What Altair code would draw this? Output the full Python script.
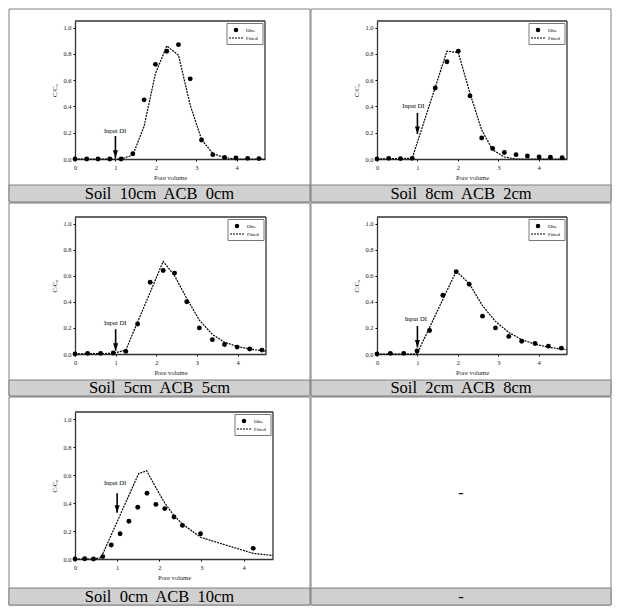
import altair as alt
import pandas as pd

FONT = "Liberation Serif"
BORDER = "#808080"
CAPFILL = "#d0d0d0"
FRAME = "#333"

# ---------------- data ----------------
captions = ["Soil  10cm  ACB  0cm", "Soil  8cm  ACB  2cm", "Soil  5cm  ACB  5cm",
            "Soil  2cm  ACB  8cm", "Soil  0cm  ACB  10cm", "-"]
legend_labels = ["Obs.", "Fitted"]

obs_x1 = [0, 0.29, 0.57, 0.86, 1.14, 1.43, 1.71, 1.99, 2.27, 2.56, 2.85, 3.13, 3.41, 3.70, 3.98, 4.27, 4.55]
obs_y1 = [0, 0, 0, 0, 0, 0.04, 0.45, 0.72, 0.82, 0.87, 0.61, 0.145, 0.033, 0.012, 0.008, 0.005, 0.003]
fit_x1 = [0, 1.14, 1.43, 1.71, 1.99, 2.27, 2.56, 2.85, 3.13, 3.41, 3.70, 3.98, 4.7]
fit_y1 = [0, 0.0, 0.03, 0.25, 0.65, 0.86, 0.79, 0.41, 0.15, 0.04, 0.01, 0.0, 0.0]

obs_x2 = [0, 0.29, 0.58, 0.87, 1.44, 1.73, 2.01, 2.30, 2.59, 2.86, 3.15, 3.44, 3.72, 4.01, 4.29, 4.58]
obs_y2 = [0, 0.005, 0.003, 0.005, 0.54, 0.74, 0.82, 0.48, 0.16, 0.08, 0.05, 0.033, 0.023, 0.015, 0.013, 0.01]
fit_x2 = [0, 0.87, 1.73, 2.01, 2.30, 2.59, 2.86, 3.15, 3.44, 4.7]
fit_y2 = [0, 0.005, 0.82, 0.81, 0.50, 0.22, 0.07, 0.015, 0.0, 0.0]

obs_x3 = [0, 0.31, 0.63, 0.94, 1.25, 1.54, 1.85, 2.17, 2.45, 2.75, 3.06, 3.38, 3.68, 3.99, 4.30, 4.60]
obs_y3 = [0, 0.005, 0.005, 0.008, 0.02, 0.23, 0.55, 0.64, 0.62, 0.40, 0.20, 0.11, 0.073, 0.053, 0.038, 0.03]
fit_x3 = [0, 0.94, 1.25, 2.17, 2.45, 2.75, 3.06, 3.38, 3.68, 3.99, 4.30, 4.7]
fit_y3 = [0, 0.005, 0.03, 0.71, 0.60, 0.425, 0.26, 0.15, 0.09, 0.058, 0.038, 0.022]

obs_x4 = [0, 0.33, 0.66, 0.99, 1.30, 1.63, 1.96, 2.28, 2.61, 2.93, 3.26, 3.58, 3.91, 4.24, 4.56]
obs_y4 = [0, 0.005, 0.005, 0.023, 0.18, 0.45, 0.63, 0.535, 0.29, 0.20, 0.135, 0.098, 0.08, 0.06, 0.045]
fit_x4 = [0, 0.99, 1.96, 2.28, 2.61, 2.93, 3.26, 3.58, 3.91, 4.24, 4.56, 4.7]
fit_y4 = [0, 0.0, 0.635, 0.54, 0.37, 0.25, 0.165, 0.11, 0.075, 0.052, 0.038, 0.033]

obs_x5 = [0, 0.23, 0.44, 0.66, 0.86, 1.07, 1.28, 1.49, 1.71, 1.92, 2.13, 2.35, 2.55, 2.98, 4.23]
obs_y5 = [0, 0.002, 0, 0.017, 0.10, 0.18, 0.27, 0.37, 0.47, 0.39, 0.36, 0.30, 0.24, 0.18, 0.076]
fit_x5 = [0, 0.44, 0.62, 1.51, 1.70, 1.92, 2.13, 2.35, 2.55, 2.98, 4.23, 4.7]
fit_y5 = [0, 0, 0.01, 0.61, 0.63, 0.51, 0.40, 0.31, 0.25, 0.155, 0.04, 0.025]

# "Input DI" annotation: label x, label y, arrow x, arrow top, arrow tip
ann_label_x = [0.99, 0.90, 0.99, 0.96, 0.95]
ann_label_y = [0.215, 0.405, 0.24, 0.27, 0.54]
ann_arrow_x = [1.0, 1.0, 1.0, 1.0, 1.0]
ann_arrow_top = [0.175, 0.35, 0.19, 0.215, 0.47]
ann_arrow_tip = [0.008, 0.19, 0.025, 0.05, 0.33]

x_ticks = [0, 1, 2, 3, 4]
y_ticks = [0, 0.2, 0.4, 0.6, 0.8, 1.0]

obs_x = [obs_x1, obs_x2, obs_x3, obs_x4, obs_x5]
obs_y = [obs_y1, obs_y2, obs_y3, obs_y4, obs_y5]
fit_x = [fit_x1, fit_x2, fit_x3, fit_x4, fit_x5]
fit_y = [fit_y1, fit_y2, fit_y3, fit_y4, fit_y5]

# ---------------- layout (pixels) ----------------
layouts = [
    dict(L=66, T=12, w=190, h=138, cw=301, ch=193, ct=176, chh=17),
    dict(L=66, T=12, w=190, h=138, cw=300, ch=193, ct=176, chh=17),
    dict(L=66, T=14, w=191, h=137, cw=301, ch=193, ct=177, chh=16),
    dict(L=66, T=14, w=190, h=137, cw=300, ch=193, ct=177, chh=16),
    dict(L=66, T=15, w=198, h=147, cw=301, ch=208, ct=191, chh=17),
    dict(L=66, T=15, w=198, h=147, cw=300, ch=208, ct=191, chh=17),
]

one = alt.Data(values=[{"k": 0}])


def deco(i):
    lay = layouts[i]
    L, T, cw, ch, ct, chh = lay["L"], lay["T"], lay["cw"], lay["ch"], lay["ct"], lay["chh"]
    cap = captions[i].replace("  ", "\u00a0 ")
    border = alt.Chart(one).mark_rect(fillOpacity=0, stroke=BORDER, strokeWidth=1).encode(
        x=alt.value(-L), x2=alt.value(cw - L), y=alt.value(-T), y2=alt.value(ch - T))
    capbar = alt.Chart(one).mark_rect(fill=CAPFILL, stroke=BORDER, strokeWidth=1).encode(
        x=alt.value(-L), x2=alt.value(cw - L), y=alt.value(ct - T), y2=alt.value(ch - T))
    captext = alt.Chart(one).mark_text(text=cap, font=FONT, fontSize=16.5, color="black",
                                       align="center", baseline="alphabetic").encode(
        x=alt.value(cw / 2 - L), y=alt.value(ct + chh - 3 - T))
    return [border, capbar, captext]


def frame(w, h):
    top = alt.Chart(one).mark_rule(color=FRAME, strokeWidth=1.3).encode(
        x=alt.value(0), x2=alt.value(w), y=alt.value(0))
    right = alt.Chart(one).mark_rule(color=FRAME, strokeWidth=1.3).encode(
        x=alt.value(w), y=alt.value(0), y2=alt.value(h))
    return [top, right]


def legend_box(w):
    box = alt.Chart(one).mark_rect(fill="white", stroke="#555", strokeWidth=0.8).encode(
        x=alt.value(w - 38), x2=alt.value(w - 2), y=alt.value(2.5), y2=alt.value(23.5))
    dot = alt.Chart(one).mark_circle(size=20, color="black", opacity=1).encode(
        x=alt.value(w - 29), y=alt.value(9))
    dline = alt.Chart(one).mark_rule(strokeDash=[2, 1], strokeWidth=1.2, color="black").encode(
        x=alt.value(w - 36), x2=alt.value(w - 22), y=alt.value(17))
    t1 = alt.Chart(one).mark_text(text=legend_labels[0], font=FONT, fontSize=5, color="black",
                                  align="left", baseline="middle").encode(
        x=alt.value(w - 19), y=alt.value(9))
    t2 = alt.Chart(one).mark_text(text=legend_labels[1], font=FONT, fontSize=5, color="black",
                                  align="left", baseline="middle").encode(
        x=alt.value(w - 19), y=alt.value(17))
    return [box, dot, dline, t1, t2]


xscale = alt.Scale(domain=[0, 4.7], nice=False, zero=False)
yscale = alt.Scale(domain=[0, 1.05], nice=False, zero=False)
xaxis = alt.Axis(values=x_ticks, format="d", title="Pore volume", labelPadding=3, titlePadding=4)
yaxis = alt.Axis(values=y_ticks, format=".1f", title="C/C\u2080", labelPadding=2, titlePadding=5)


def X(f):
    return alt.X(f, type="quantitative", scale=xscale, axis=xaxis)


def Y(f):
    return alt.Y(f, type="quantitative", scale=yscale, axis=yaxis)


def panel(i):
    lay = layouts[i]
    obs = pd.DataFrame({"pv": obs_x[i], "c": obs_y[i]})
    fit = pd.DataFrame({"pv": fit_x[i], "c": fit_y[i]})
    ann = pd.DataFrame({"lx": [ann_label_x[i]], "ly": [ann_label_y[i]], "ax": [ann_arrow_x[i]],
                        "top": [ann_arrow_top[i]], "tip": [ann_arrow_tip[i]]})

    pts = alt.Chart(obs).mark_circle(size=24, opacity=1, color="black").encode(
        x=X("pv"), y=Y("c"))
    line = alt.Chart(fit).mark_line(strokeDash=[2, 1], strokeWidth=1.2, color="black").encode(
        x=X("pv"), y=Y("c"))
    label = alt.Chart(ann).mark_text(text="Input DI", font=FONT, fontSize=6.5, color="black",
                                     baseline="middle", align="center").encode(
        x=X("lx"), y=Y("ly"))
    shaft = alt.Chart(ann).mark_rule(strokeWidth=1.6, color="black").encode(
        x=X("ax"), y=Y("top"), y2="tip:Q")
    head = alt.Chart(ann).mark_point(shape="M-0.33,-1L0,0L0.33,-1Z", filled=True, size=230,
                                     fill="black", opacity=1, strokeWidth=0).encode(
        x=X("ax"), y=Y("tip"))

    return alt.layer(*deco(i), pts, line, label, shaft, head,
                     *legend_box(lay["w"]), *frame(lay["w"], lay["h"])).properties(
        width=lay["w"], height=lay["h"])


def empty_cell(i):
    lay = layouts[i]
    L, T, cw, ct = lay["L"], lay["T"], lay["cw"], lay["ct"]
    dash = alt.Chart(one).mark_text(text="-", font=FONT, fontSize=16, color="black",
                                    align="center", baseline="middle").encode(
        x=alt.value(cw / 2 - L), y=alt.value(ct / 2 - T))
    return alt.layer(*deco(i), dash).properties(width=lay["w"], height=lay["h"])


def row(a, b):
    return alt.hconcat(a, b, spacing=-1).resolve_scale(
        x="independent", y="independent").resolve_axis(x="independent", y="independent")


row1 = row(panel(0), panel(1))
row2 = row(panel(2), panel(3))
row3 = row(panel(4), empty_cell(5))

chart = alt.vconcat(row1, row2, row3, spacing=-1).resolve_scale(
    x="independent", y="independent"
).properties(
    padding=0
).configure_view(stroke="transparent").configure_axis(
    labelFont=FONT, labelFontSize=6.5, titleFont=FONT, titleFontSize=6.5, titleFontWeight="normal",
    tickSize=2, tickColor="black", domainColor=FRAME, domainWidth=1.3, labelColor="#222",
    titleColor="#222", grid=False, labelFlush=False,
)

chart.save("out.html", embed_options={"renderer": "svg", "actions": False})
